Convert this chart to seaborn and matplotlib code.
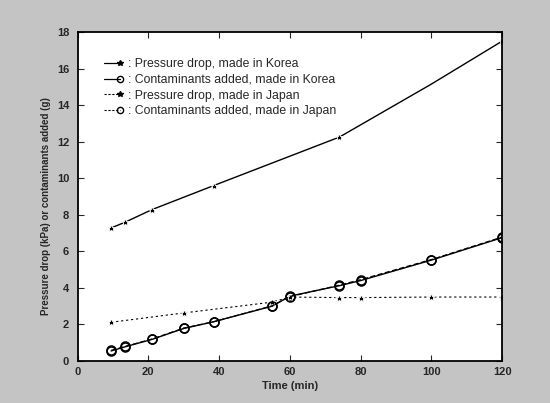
import matplotlib
matplotlib.use("Agg")
import matplotlib.pyplot as plt
import seaborn as sns
from matplotlib.lines import Line2D
from matplotlib.legend_handler import HandlerLine2D

sns.set_style("ticks")
plt.rcParams['font.family'] = ['Liberation Sans', 'DejaVu Sans']

# Data
time_pk = [9.5, 13.5, 21, 38.5, 74, 100, 120]
pressure_korea = [7.28, 7.6, 8.28, 9.6, 12.25, 15.15, 17.5]

time_ck = [9.5, 13.5, 21, 30, 38.5, 55, 60, 74, 80, 100, 120]
contam_korea = [0.55, 0.78, 1.18, 1.78, 2.15, 3.0, 3.55, 4.12, 4.4, 5.52, 6.75]

time_pj = [9.5, 30, 55, 60, 74, 80, 100, 120]
pressure_japan = [2.12, 2.63, 3.22, 3.5, 3.47, 3.47, 3.5, 3.5]

time_cj = [9.5, 13.5, 21, 30, 38.5, 55, 60, 74, 80, 100, 120]
contam_japan = [0.58, 0.8, 1.2, 1.8, 2.15, 3.02, 3.52, 4.15, 4.45, 5.55, 6.78]

labels = [": Pressure drop, made in Korea",
          ": Contaminants added, made in Korea",
          ": Pressure drop, made in Japan",
          ": Contaminants added, made in Japan"]

xticks = [0, 20, 40, 60, 80, 100, 120]
yticks = [0, 2, 4, 6, 8, 10, 12, 14, 16, 18]


class EndMarkerHandler(HandlerLine2D):
    """Legend handle like MATLAB's '-*': a short line with the marker at its end."""
    def create_artists(self, legend, orig_handle, xdescent, ydescent,
                       width, height, fontsize, trans):
        arts = super().create_artists(legend, orig_handle, xdescent, ydescent,
                                      width, height, fontsize, trans)
        for a in arts:
            if a.get_marker() not in (None, 'None', '', ' '):
                n = len(a.get_xdata())
                a.set_markevery([n - 1])
        return arts


bg = '#c4c4c4'
fig = plt.figure(figsize=(5.5, 4.03), dpi=100, facecolor=bg)
ax = fig.add_axes([0.141, 0.1042, 0.772, 0.8164])
ax.set_facecolor('white')

sns.lineplot(x=time_pk, y=pressure_korea, ax=ax, color='black', lw=1.0,
             linestyle='-', marker='*', markersize=6, markeredgewidth=0.6,
             markevery=[0, 1, 2, 3, 4, 6])
sns.lineplot(x=time_ck, y=contam_korea, ax=ax, color='black', lw=1.0,
             linestyle='-', marker='o', markersize=6.5, markerfacecolor='none',
             markeredgecolor='black', markeredgewidth=1.1)
sns.lineplot(x=time_pj, y=pressure_japan, ax=ax, color='black', lw=0.8,
             linestyle=(0, (2, 2.5)), marker='*', markersize=6, markeredgewidth=0.6)
sns.lineplot(x=time_cj, y=contam_japan, ax=ax, color='black', lw=0.9,
             linestyle=(0, (4, 2)), marker='o', markersize=6.5, markerfacecolor='none',
             markeredgecolor='black', markeredgewidth=1.1)

ax.set_xlim(0, 120)
ax.set_ylim(0, 18)
ax.set_xticks(xticks)
ax.set_yticks(yticks)
ax.set_xticklabels([str(t) for t in xticks], fontsize=8, fontweight='bold')
ax.set_yticklabels([str(t) for t in yticks], fontsize=8, fontweight='bold')
ax.tick_params(direction='in', length=4, width=0.8, top=True, right=True)
ax.tick_params(axis='y', pad=6)
ax.tick_params(axis='x', pad=4)
for s in ax.spines.values():
    s.set_visible(True)
    s.set_linewidth(1.3)
    s.set_color('black')

ax.set_xlabel("Time (min)", fontsize=8, fontweight='bold', labelpad=3)
ax.set_ylabel("Pressure drop (kPa) or contaminants added (g)", fontsize=7,
              fontweight='bold')
ax.yaxis.set_label_coords(-0.062, 0.47)

handles = [
    Line2D([], [], color='black', lw=0.9, ls='-', marker='*', markersize=4),
    Line2D([], [], color='black', lw=0.9, ls='-', marker='o', markersize=4.5, markerfacecolor='none'),
    Line2D([], [], color='black', lw=0.8, ls=(0, (2, 1.5)), marker='*', markersize=4),
    Line2D([], [], color='black', lw=0.8, ls=(0, (2, 1.5)), marker='o', markersize=4.5, markerfacecolor='none'),
]
leg = ax.legend(handles, labels, loc='upper left', bbox_to_anchor=(0.063, 0.92),
                frameon=False, fontsize=8.8, handlelength=1.3, handletextpad=0.6,
                labelspacing=0.3, borderpad=0, borderaxespad=0,
                handler_map={Line2D: EndMarkerHandler()})

fig.savefig("out.png", dpi=100, facecolor=bg)
